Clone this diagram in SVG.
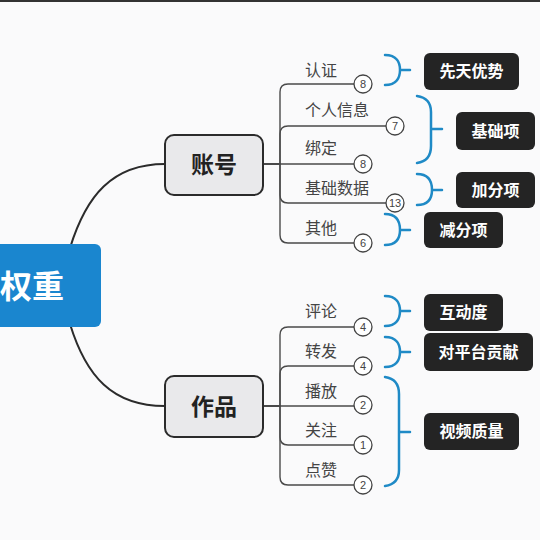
<svg xmlns="http://www.w3.org/2000/svg" width="540" height="540" viewBox="0 0 540 540">
<defs>
<style>
.bg{fill:#fafafb}
.main rect{fill:#1a86cf}
.main text{fill:#fff;font:bold 32px "Noto Sans CJK SC",sans-serif}
.sub rect{fill:#e9e9eb;stroke:#2b2b2b;stroke-width:2}
.sub text{fill:#222;font:bold 23px "Noto Sans CJK SC",sans-serif;text-anchor:middle}
.leaf text{fill:#444;font:16px "Noto Sans CJK SC",sans-serif}
.num circle{fill:#fff;stroke:#444;stroke-width:1.3}
.num text{fill:#444;font:11px "Liberation Sans",sans-serif;text-anchor:middle}
.tag rect{fill:#242424}
.tag text{fill:#fff;font:bold 16px "Noto Sans CJK SC",sans-serif;text-anchor:middle}
.br{fill:none;stroke:#1f8ac6;stroke-width:2.5;stroke-linecap:round}
.trunk{fill:none;stroke:#2b2b2b;stroke-width:2}
.branch{fill:none;stroke:#4a4a4a;stroke-width:1.4}
</style>
</defs>
<rect class="bg" x="0" y="0" width="540" height="540"/>
<rect x="0" y="0" width="540" height="2" fill="#333"/>

<g id="connectors">
<path class="trunk" d="M70 248 C 86 196, 112 164, 165 164"/>
<path class="trunk" d="M70 324 C 86 376, 112 406, 165 406"/>
<path class="branch" d="M263 164 H280 V92 Q280 84 288 84 H354"/>
<path class="branch" d="M263 164 H280 V134 Q280 126 288 126 H386"/>
<path class="branch" d="M263 164 H354"/>
<path class="branch" d="M263 164 H280 V195 Q280 203 288 203 H386"/>
<path class="branch" d="M263 164 H280 V235 Q280 243 288 243 H354"/>
<path class="branch" d="M263 406 H280 V335 Q280 327 288 327 H354"/>
<path class="branch" d="M263 406 H280 V374 Q280 366 288 366 H354"/>
<path class="branch" d="M263 406 H354"/>
<path class="branch" d="M263 406 H280 V437 Q280 445 288 445 H354"/>
<path class="branch" d="M263 406 H280 V477 Q280 485 288 485 H354"/>
</g>

<g id="brackets">
<path class="br" d="M385 55 C397 55 400 63 400 70 C400 77 397 85 385 85 M400 70 H410"/>
<path class="br" d="M417 96 Q431 98 431 112 V146 Q431 161 417 163 M431 129 H442"/>
<path class="br" d="M417 174 C429 174 432 182 432 190 C432 198 429 205 417 205 M432 190 H442"/>
<path class="br" d="M385 214 C397 214 400 222 400 230 C400 238 397 245 385 245 M400 230 H410"/>
<path class="br" d="M385 296 C397 296 400 304 400 311 C400 318 397 326 385 326 M400 311 H410"/>
<path class="br" d="M385 337 C397 337 400 345 400 352 C400 359 397 367 385 367 M400 352 H410"/>
<path class="br" d="M385 377 Q399 379 399 394 V470 Q399 484 385 486 M399 432 H410"/>
</g>

<g id="n-main" class="main">
<rect x="-10" y="244" width="111" height="83" rx="6"/>
<text x="0" y="298">权重</text>
</g>

<g id="n-account" class="sub">
<rect x="165" y="135" width="98" height="60" rx="9"/>
<text x="214" y="173">账号</text>
</g>
<g id="n-works" class="sub">
<rect x="165" y="376" width="98" height="61" rx="9"/>
<text x="214" y="415">作品</text>
</g>

<g id="n-renzheng" class="leaf"><text x="305" y="76">认证</text></g>
<g id="n-gerenxinxi" class="leaf"><text x="305" y="116">个人信息</text></g>
<g id="n-bangding" class="leaf"><text x="305" y="154">绑定</text></g>
<g id="n-jichushuju" class="leaf"><text x="305" y="194">基础数据</text></g>
<g id="n-qita" class="leaf"><text x="305" y="234">其他</text></g>
<g id="n-pinglun" class="leaf"><text x="305" y="317">评论</text></g>
<g id="n-zhuanfa" class="leaf"><text x="305" y="357">转发</text></g>
<g id="n-bofang" class="leaf"><text x="305" y="397">播放</text></g>
<g id="n-guanzhu" class="leaf"><text x="305" y="436">关注</text></g>
<g id="n-dianzan" class="leaf"><text x="305" y="476">点赞</text></g>

<g id="c1" class="num"><circle cx="363" cy="84" r="9"/><text x="363" y="88">8</text></g>
<g id="c2" class="num"><circle cx="395" cy="126" r="9"/><text x="395" y="130">7</text></g>
<g id="c3" class="num"><circle cx="363" cy="164" r="9"/><text x="363" y="168">8</text></g>
<g id="c4" class="num"><circle cx="395" cy="203" r="9"/><text x="395" y="207">13</text></g>
<g id="c5" class="num"><circle cx="363" cy="243" r="9"/><text x="363" y="247">6</text></g>
<g id="c6" class="num"><circle cx="363" cy="327" r="9"/><text x="363" y="331">4</text></g>
<g id="c7" class="num"><circle cx="363" cy="366" r="9"/><text x="363" y="370">4</text></g>
<g id="c8" class="num"><circle cx="363" cy="405" r="9"/><text x="363" y="409">2</text></g>
<g id="c9" class="num"><circle cx="363" cy="445" r="9"/><text x="363" y="449">1</text></g>
<g id="c10" class="num"><circle cx="363" cy="485" r="9"/><text x="363" y="489">2</text></g>

<g id="t-xiantian" class="tag"><rect x="424" y="53" width="95" height="37" rx="6"/><text x="471.5" y="77">先天优势</text></g>
<g id="t-jichu" class="tag"><rect x="456" y="112" width="79" height="38" rx="6"/><text x="495.5" y="137">基础项</text></g>
<g id="t-jiafen" class="tag"><rect x="456" y="172" width="79" height="36" rx="6"/><text x="495.5" y="196">加分项</text></g>
<g id="t-jianfen" class="tag"><rect x="424" y="212" width="79" height="36" rx="6"/><text x="463.5" y="236">减分项</text></g>
<g id="t-hudong" class="tag"><rect x="424" y="294" width="79" height="37" rx="6"/><text x="463.5" y="318">互动度</text></g>
<g id="t-gongxian" class="tag"><rect x="424" y="333" width="109" height="38" rx="6"/><text x="478.5" y="358">对平台贡献</text></g>
<g id="t-zhiliang" class="tag"><rect x="424" y="413" width="95" height="37" rx="6"/><text x="471.5" y="437">视频质量</text></g>
</svg>
